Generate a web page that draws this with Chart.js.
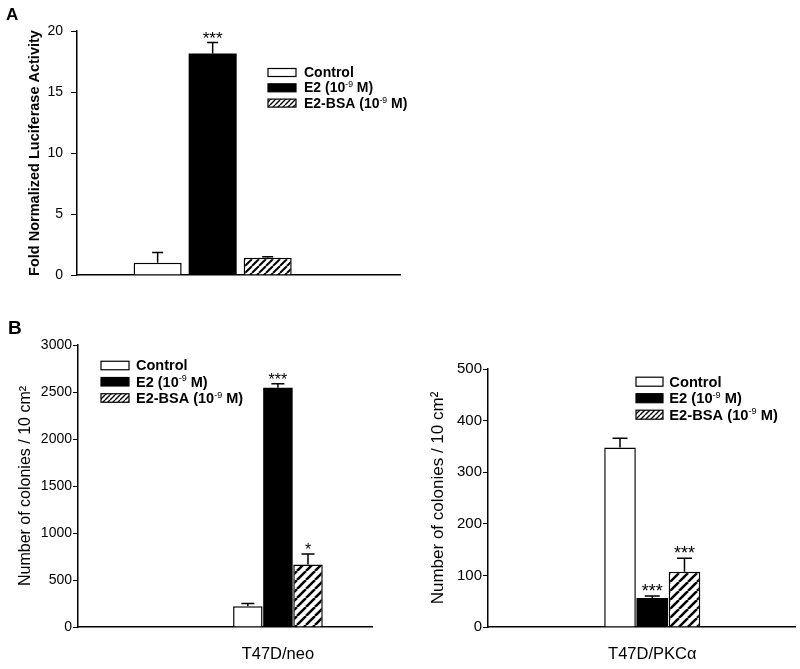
<!DOCTYPE html>
<html><head><meta charset="utf-8">
<script src="https://cdn.jsdelivr.net/npm/chart.js@4.4.1/dist/chart.umd.min.js"></script>
<style>
html,body{margin:0;padding:0;background:#fff;width:800px;height:669px;overflow:hidden}
canvas{position:absolute}
</style></head><body>
<canvas id="cA" width="430" height="300" style="left:0;top:0"></canvas>
<canvas id="cB1" width="400" height="359" style="left:0;top:310px"></canvas>
<canvas id="cB2" width="400" height="339" style="left:400px;top:330px"></canvas>
<script>
// ---------------- data ----------------
const seriesLabels = ['Control', 'E2 (10⁻⁹ M)', 'E2-BSA (10⁻⁹ M)'];

// Panel A
const lucCategories = [''];
const lucControl = [1.0];
const lucE2 = [18.15];
const lucE2BSA = [1.42];
const lucControlErr = [0.85];
const lucE2Err = [0.9];
const lucE2BSAErr = [0.08];
const lucControlStars = [''];
const lucE2Stars = ['***'];
const lucE2BSAStars = [''];
const lucTicks = [0, 5, 10, 15, 20];

// Panel B left
const neoCategories = ['T47D/neo'];
const neoControl = [221];
const neoE2 = [2545];
const neoE2BSA = [666];
const neoControlErr = [30];
const neoE2Err = [43];
const neoE2BSAErr = [110];
const neoControlStars = [''];
const neoE2Stars = ['***'];
const neoE2BSAStars = ['*'];
const neoTicks = [0, 500, 1000, 1500, 2000, 2500, 3000];

// Panel B right
const pkcCategories = ['T47D/PKCα'];
const pkcControl = [348];
const pkcE2 = [56];
const pkcE2BSA = [107];
const pkcControlErr = [18];
const pkcE2Err = [4];
const pkcE2BSAErr = [26];
const pkcControlStars = [''];
const pkcE2Stars = ['***'];
const pkcE2BSAStars = ['***'];
const pkcTicks = [0, 100, 200, 300, 400, 500];

// ---------------- helpers ----------------
const FONT = '"Liberation Sans", Arial, Helvetica, sans-serif';
Chart.defaults.font.family = FONT;
Chart.defaults.color = '#000';

function hatch(ctx, p, lw) {
  const c = document.createElement('canvas');
  c.width = p; c.height = p;
  const g = c.getContext('2d');
  g.fillStyle = '#fff'; g.fillRect(0, 0, p, p);
  g.strokeStyle = '#000'; g.lineWidth = lw;
  g.beginPath();
  for (const k of [-1, 0, 1]) { g.moveTo(k * p, p); g.lineTo(k * p + p, 0); }
  g.stroke();
  return ctx.createPattern(c, 'repeat');
}

const SUP = {'⁻':'-','⁰':'0','¹':'1','²':'2','³':'3','⁴':'4','⁵':'5','⁶':'6','⁷':'7','⁸':'8','⁹':'9'};
function drawRichText(ctx, text, x, y, size, weight) {
  const runs = []; let cur = '', curSup = false;
  for (const ch of text) {
    const sup = ch in SUP;
    if (sup !== curSup && cur) { runs.push([cur, curSup]); cur = ''; }
    curSup = sup; cur += sup ? SUP[ch] : ch;
  }
  if (cur) runs.push([cur, curSup]);
  ctx.textBaseline = 'alphabetic'; ctx.textAlign = 'left'; ctx.fillStyle = '#000';
  for (const [t, sup] of runs) {
    ctx.font = (sup ? 'normal' : weight) + ' ' + (sup ? size * 0.62 : size) + 'px ' + FONT;
    ctx.fillText(t, x, sup ? y - size * 0.36 : y);
    x += ctx.measureText(t).width;
  }
}

const errorBarPlugin = {
  id: 'errorBars',
  afterDatasetsDraw(chart, args, o) {
    const ctx = chart.ctx, ys = chart.scales.y;
    chart.data.datasets.forEach((ds, di) => {
      const meta = chart.getDatasetMeta(di);
      meta.data.forEach((bar, i) => {
        const v = ds.data[i].y, e = ds.errors[i];
        const yTop = ys.getPixelForValue(v + e), yBar = ys.getPixelForValue(v);
        ctx.save();
        ctx.strokeStyle = '#000'; ctx.lineWidth = o.lineWidth;
        if (e > 0) {
          ctx.beginPath();
          ctx.moveTo(bar.x, yBar); ctx.lineTo(bar.x, yTop);
          ctx.moveTo(bar.x - o.cap / 2, yTop); ctx.lineTo(bar.x + o.cap / 2, yTop);
          ctx.stroke();
        }
        const s = ds.stars[i];
        if (s) {
          ctx.font = o.starSize + 'px ' + FONT; ctx.fillStyle = '#000';
          ctx.textAlign = 'center'; ctx.textBaseline = 'alphabetic';
          ctx.fillText(s, bar.x, yTop + o.starOffset);
        }
        ctx.restore();
      });
    });
  }
};

const boxLegendPlugin = {
  id: 'boxLegend',
  afterDraw(chart, args, o) {
    const ctx = chart.ctx;
    chart.data.datasets.forEach((ds, i) => {
      const cy = o.y + i * o.step, top = cy - o.boxH / 2;
      ctx.save();
      ctx.fillStyle = o.fills[i];
      ctx.fillRect(o.x, top, o.boxW, o.boxH);
      ctx.strokeStyle = '#000'; ctx.lineWidth = 1.2;
      ctx.strokeRect(o.x, top, o.boxW, o.boxH);
      drawRichText(ctx, ds.label, o.x + o.boxW + o.gap, top + o.boxH + o.baseShift, o.size, 'bold');
      ctx.restore();
    });
    ctx.save();
    ctx.font = 'bold ' + o.panelSize + 'px ' + FONT; ctx.fillStyle = '#000';
    ctx.textAlign = 'left'; ctx.textBaseline = 'alphabetic';
    ctx.fillText(o.panel, o.panelX, o.panelY);
    ctx.restore();
  }
};

function makePanel(id, d, L) {
  const ctx = document.getElementById(id).getContext('2d');
  const barHatch = hatch(ctx, L.hatchP, L.hatchW);
  const legHatch = hatch(ctx, 5, 1.4);
  const toXY = arr => arr.map((v, i) => ({x: i, y: v}));
  return new Chart(ctx, {
    type: 'bar',
    data: {
      datasets: [
        {label: seriesLabels[0], data: toXY(d.control), errors: d.controlErr, stars: d.controlStars,
         backgroundColor: '#fff', borderColor: '#000', borderWidth: 1.5},
        {label: seriesLabels[1], data: toXY(d.e2), errors: d.e2Err, stars: d.e2Stars,
         backgroundColor: '#000', borderColor: '#000', borderWidth: 0},
        {label: seriesLabels[2], data: toXY(d.bsa), errors: d.bsaErr, stars: d.bsaStars,
         backgroundColor: barHatch, borderColor: '#000', borderWidth: 1.5}
      ]
    },
    options: {
      responsive: false, animation: false,
      layout: {padding: {left: 0, top: L.top, right: L.right, bottom: 0}},
      datasets: {bar: {categoryPercentage: L.catPct, barPercentage: L.barPct}},
      scales: {
        x: {
          type: 'linear', bounds: 'data', min: L.xmin, max: L.xmax, offset: false,
          grid: {display: false, drawTicks: false},
          border: {display: true, color: '#000', width: 1.5},
          afterBuildTicks: s => { s.ticks = d.categories.map((c, i) => ({value: i})); },
          ticks: {display: L.showCat, autoSkip: false, maxRotation: 0, color: '#000',
                  font: {size: 16.5}, padding: L.catPad, callback: v => d.categories[v]},
          afterFit: s => { s.height = L.xH; }
        },
        y: {
          type: 'linear', min: 0, max: d.ticks[d.ticks.length - 1],
          afterBuildTicks: s => { s.ticks = d.ticks.map(v => ({value: v})); },
          grid: {display: true, drawOnChartArea: false, drawTicks: true, tickLength: L.tickLen, color: '#000', lineWidth: 1},
          border: {display: true, color: '#000', width: 1.5},
          ticks: {color: '#000', font: {size: L.tickSize}, padding: L.tickPad, callback: v => String(v)},
          title: {display: true, text: d.title, color: '#000',
                  font: {size: L.titleSize, weight: L.titleWeight}, padding: {top: L.titlePad, bottom: 0}},
          afterFit: s => { s.width = L.yW; }
        }
      },
      plugins: {
        legend: {display: false}, tooltip: {enabled: false},
        errorBars: {lineWidth: 1.5, cap: L.cap, starSize: L.starSize, starOffset: 1},
        boxLegend: {x: L.legX, y: L.legY, step: L.legStep, boxW: L.boxW, boxH: L.boxH, gap: L.legGap,
                    baseShift: 0.5, size: L.legSize, fills: ['#fff', '#000', legHatch],
                    panel: L.panel, panelX: L.panelX, panelY: L.panelY, panelSize: L.panelSize}
      }
    },
    plugins: [errorBarPlugin, boxLegendPlugin]
  });
}

makePanel('cA', {
  categories: lucCategories, control: lucControl, e2: lucE2, bsa: lucE2BSA,
  controlErr: lucControlErr, e2Err: lucE2Err, bsaErr: lucE2BSAErr,
  controlStars: lucControlStars, e2Stars: lucE2Stars, bsaStars: lucE2BSAStars,
  ticks: lucTicks, title: 'Fold Normalized Luciferase Activity'
}, {
  top: 31, right: 30, xmin: -0.42, xmax: 0.58, catPct: 0.511, barPct: 0.873,
  showCat: false, catPad: 10, xH: 25, yW: 77, tickLen: 6, tickSize: 14, tickPad: 8,
  titleSize: 14.5, titleWeight: 'bold', titlePad: 26.3,
  hatchP: 7, hatchW: 2, cap: 11, starSize: 17,
  legX: 268, legY: 72.5, legStep: 15.3, boxW: 28, boxH: 8, legGap: 8, legSize: 14,
  panel: 'A', panelX: 6, panelY: 20, panelSize: 17
});

makePanel('cB1', {
  categories: neoCategories, control: neoControl, e2: neoE2, bsa: neoE2BSA,
  controlErr: neoControlErr, e2Err: neoE2Err, bsaErr: neoE2BSAErr,
  controlStars: neoControlStars, e2Stars: neoE2Stars, bsaStars: neoE2BSAStars,
  ticks: neoTicks, title: 'Number of colonies / 10 cm²'
}, {
  top: 35, right: 28, xmin: -0.68, xmax: 0.32, catPct: 0.307, barPct: 0.98,
  showCat: true, catPad: 18, xH: 42, yW: 78, tickLen: 5, tickSize: 14, tickPad: 1,
  titleSize: 16, titleWeight: 'normal', titlePad: 16.4,
  hatchP: 9, hatchW: 2.5, cap: 13, starSize: 16,
  legX: 101, legY: 55.5, legStep: 16.25, boxW: 28, boxH: 8.5, legGap: 7, legSize: 14.5,
  panel: 'B', panelX: 8, panelY: 24, panelSize: 19
});

makePanel('cB2', {
  categories: pkcCategories, control: pkcControl, e2: pkcE2, bsa: pkcE2BSA,
  controlErr: pkcControlErr, e2Err: pkcE2Err, bsaErr: pkcE2BSAErr,
  controlStars: pkcControlStars, e2Stars: pkcE2Stars, bsaStars: pkcE2BSAStars,
  ticks: pkcTicks, title: 'Number of colonies / 10 cm²'
}, {
  top: 39, right: 5, xmin: -0.535, xmax: 0.465, catPct: 0.315, barPct: 0.98,
  showCat: true, catPad: 18, xH: 42, yW: 88, tickLen: 5, tickSize: 15, tickPad: 1,
  titleSize: 17, titleWeight: 'normal', titlePad: 28.1,
  hatchP: 9, hatchW: 2.5, cap: 15, starSize: 18,
  legX: 236, legY: 51.7, legStep: 16.5, boxW: 27, boxH: 9, legGap: 6.3, legSize: 14.7,
  panel: '', panelX: 0, panelY: 0, panelSize: 19
});
</script>
</body></html>
